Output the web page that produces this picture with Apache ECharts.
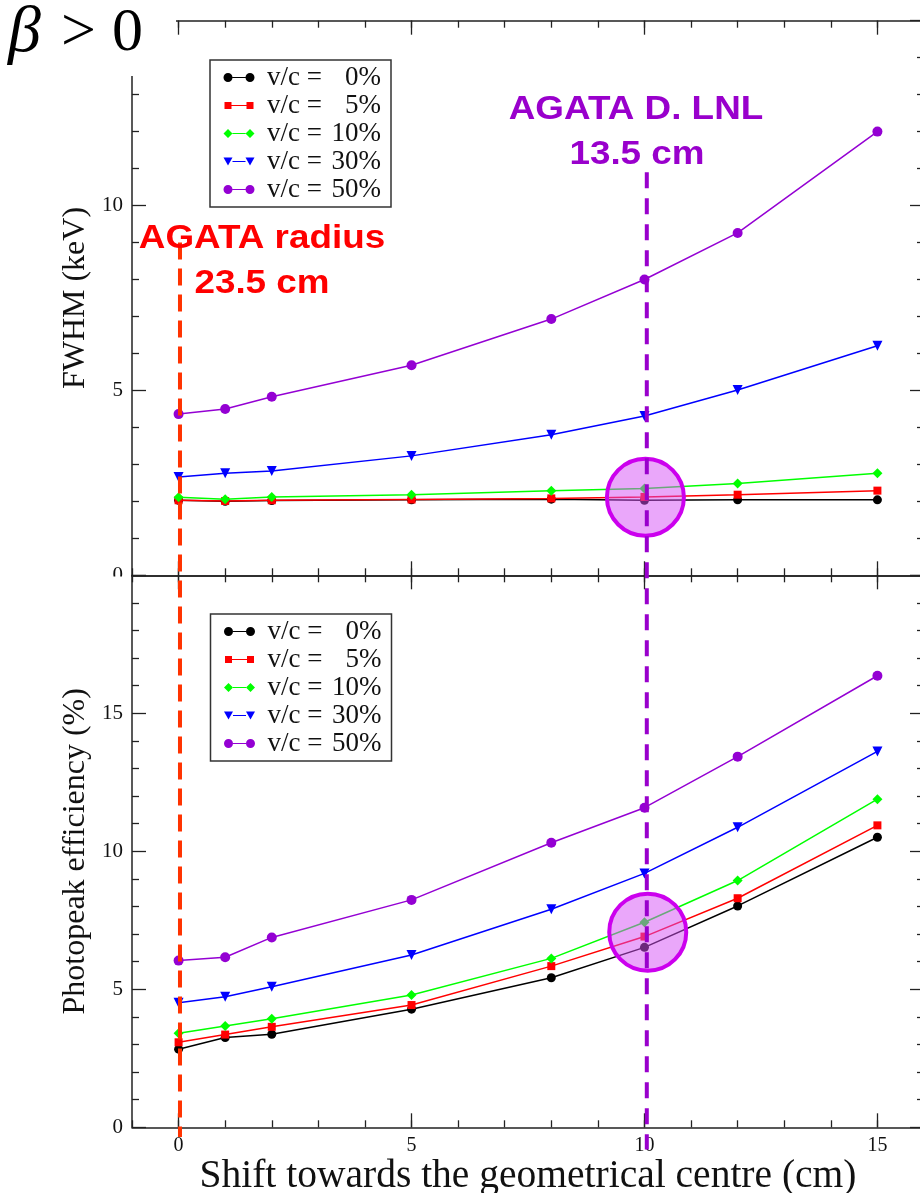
<!DOCTYPE html>
<html><head><meta charset="utf-8">
<script src="https://cdn.jsdelivr.net/npm/echarts@6/dist/echarts.min.js"></script>
<style>html,body{margin:0;padding:0;background:#fff}#chart{width:920px;height:1193px}</style>
</head><body><div id="chart"></div>
<script>
// ---------------- data ----------------
const shifts = [0, 1, 2, 5, 8, 10, 12, 15];
const seriesNames = ['v/c = 0%', 'v/c = 5%', 'v/c = 10%', 'v/c = 30%', 'v/c = 50%'];
const fwhm0  = [2.03, 2.00, 2.02, 2.04, 2.06, 2.03, 2.04, 2.04];
const fwhm5  = [2.03, 2.01, 2.03, 2.05, 2.08, 2.12, 2.18, 2.29];
const fwhm10 = [2.11, 2.06, 2.12, 2.18, 2.29, 2.35, 2.48, 2.76];
const fwhm30 = [2.66, 2.76, 2.82, 3.23, 3.80, 4.31, 5.01, 6.21];
const fwhm50 = [4.36, 4.50, 4.83, 5.68, 6.93, 8.00, 9.26, 12.00];
const eff0  = [2.83, 3.25, 3.37, 4.28, 5.42, 6.52, 8.02, 10.51];
const eff5  = [3.08, 3.36, 3.64, 4.43, 5.84, 6.91, 8.30, 10.94];
const eff10 = [3.41, 3.67, 3.93, 4.79, 6.12, 7.43, 8.94, 11.89];
const eff30 = [4.51, 4.73, 5.09, 6.24, 7.90, 9.20, 10.87, 13.62];
const eff50 = [6.04, 6.16, 6.88, 8.24, 10.31, 11.58, 13.43, 16.36];
const xMajorTicks = [0, 5, 10, 15];
const xTitle = 'Shift towards the geometrical centre (cm)';
const yTitleTop = 'FWHM (keV)';
const yTitleBottom = 'Photopeak efficiency (%)';
// annotation anchors (data coordinates)
const agataRadiusX = 0;      // red dashed line
const agataLnlX = 10;        // purple dashed line
const circleTop = [10.02, 2.11];
const circleBottom = [10.07, 7.07];

// ---------------- styles ----------------
const SERIF = '"Liberation Serif","DejaVu Serif",serif';
const SANS = '"Liberation Sans",Arial,sans-serif';
const AX = '#222';
const marks = [
  {color: '#000000', symbol: 'circle', size: 9, rotate: 0},
  {color: '#FF0000', symbol: 'rect', size: 8, rotate: 0},
  {color: '#00FF00', symbol: 'diamond', size: 10, rotate: 0},
  {color: '#0000FF', symbol: 'triangle', size: 10, rotate: 180},
  {color: '#9400D3', symbol: 'circle', size: 10, rotate: 0}
];
const BOX = 'M0,0M32,10';
const LINE = 'M9.5,4.4L22.5,4.4L22.5,5.6L9.5,5.6Z';
const icons = [
  'path://' + BOX + 'M0.5,5A4.5,4.5,0,1,0,9.5,5A4.5,4.5,0,1,0,0.5,5Z' + LINE + 'M22.5,5A4.5,4.5,0,1,0,31.5,5A4.5,4.5,0,1,0,22.5,5Z',
  'path://' + BOX + 'M1.5,1.5L8.5,1.5L8.5,8.5L1.5,8.5Z' + 'M8.5,4.4L23.5,4.4L23.5,5.6L8.5,5.6Z' + 'M23.5,1.5L30.5,1.5L30.5,8.5L23.5,8.5Z',
  'path://' + BOX + 'M5,0.5L9.5,5L5,9.5L0.5,5Z' + LINE + 'M27,0.5L31.5,5L27,9.5L22.5,5Z',
  'path://' + BOX + 'M0.5,1L9.5,1L5,9Z' + LINE + 'M22.5,1L31.5,1L27,9Z',
  'path://' + BOX + 'M0.5,5A4.5,4.5,0,1,0,9.5,5A4.5,4.5,0,1,0,0.5,5Z' + LINE + 'M22.5,5A4.5,4.5,0,1,0,31.5,5A4.5,4.5,0,1,0,22.5,5Z'
];

const chart = echarts.init(document.getElementById('chart'), null, {renderer: 'canvas'});

function xAxesFor(grid, withLabels) {
  const base = {gridIndex: grid, type: 'value', min: -1, max: 16, splitLine: {show: false}};
  const list = [];
  ['bottom', 'top'].forEach(function (pos) {
    list.push(Object.assign({}, base, {
      position: pos, interval: 1,
      axisLine: {show: true, onZero: false, lineStyle: {color: AX, width: 1.5}},
      axisTick: {show: true, inside: true, length: 7, lineStyle: {color: AX, width: 1.3}},
      axisLabel: {show: false}
    }));
    const major = Object.assign({}, base, {
      position: pos, interval: 1,
      axisLine: {show: false, onZero: false},
      axisTick: {show: true, inside: true, length: 14, customValues: xMajorTicks, lineStyle: {color: AX, width: 1.3}},
      axisLabel: {show: withLabels && pos === 'bottom', customValues: xMajorTicks, fontFamily: SERIF, fontSize: 20, color: '#111', margin: 8}
    });
    if (withLabels && pos === 'bottom') {
      major.name = xTitle; major.nameLocation = 'middle'; major.nameGap = 22;
      major.nameTextStyle = {fontFamily: SERIF, fontSize: 39.5, color: '#111'};
    }
    list.push(major);
  });
  return list;
}
function yAxesFor(grid, max, title) {
  const base = {gridIndex: grid, type: 'value', min: 0, max: max, interval: 5, splitLine: {show: false},
    axisLine: {show: true, onZero: false, lineStyle: {color: AX, width: 1.5}},
    axisTick: {show: true, inside: true, length: 14, lineStyle: {color: AX, width: 1.3}},
    minorTick: {show: true, splitNumber: 5, length: 7, lineStyle: {color: AX, width: 1.3}}};
  return [
    Object.assign({}, base, {position: 'left',
      axisLabel: {show: true, fontFamily: SERIF, fontSize: 21, color: '#111', margin: 9, showMaxLabel: grid === 0},
      name: title, nameLocation: 'middle', nameRotate: 90, nameGap: 40,
      nameTextStyle: {fontFamily: SERIF, fontSize: 32, color: '#111'}}),
    Object.assign({}, base, {position: 'right', axisLabel: {show: false}})
  ];
}

const topData = [fwhm0, fwhm5, fwhm10, fwhm30, fwhm50];
const botData = [eff0, eff5, eff10, eff30, eff50];
const series = [];
[[topData, 0, 0], [botData, 4, 2]].forEach(function (p) {
  p[0].forEach(function (vals, i) {
    series.push({
      type: 'line', name: seriesNames[i], xAxisIndex: p[1], yAxisIndex: p[2],
      data: shifts.map(function (x, k) { return [x, vals[k]]; }),
      symbol: marks[i].symbol, symbolSize: marks[i].size, symbolRotate: marks[i].rotate,
      itemStyle: {color: marks[i].color},
      lineStyle: {color: marks[i].color, width: 1.5},
      clip: false, z: 2 + i * 0.01
    });
  });
});

function legendFor(left, top) {
  return {
    orient: 'vertical', left: left, top: top, selectedMode: false,
    backgroundColor: '#fff', borderColor: '#333', borderWidth: 1.5, borderRadius: 0,
    padding: [4, 10, 4, 13], itemWidth: 32, itemHeight: 10, itemGap: 1,
    itemStyle: {borderWidth: 0},
    data: seriesNames.map(function (n, i) { return {name: n, icon: icons[i]}; }),
    formatter: function (name) {
      const parts = name.split('=');
      return '{s|}{a|' + parts[0].trim() + ' =}{b|' + parts[1].trim() + '}';
    },
    textStyle: {
      fontSize: 27, fontFamily: SERIF,
      rich: {
        s: {width: 7, fontSize: 27},
        a: {fontFamily: SERIF, fontSize: 27, color: '#111', width: 58},
        b: {fontFamily: SERIF, fontSize: 27, color: '#111', width: 56, align: 'right'}
      }
    }
  };
}

chart.setOption({
  animation: false,
  backgroundColor: '#fff',
  grid: [
    {left: 132, top: 20.7, width: 792, height: 554.6, outerBoundsMode: 'none', containLabel: false},
    {left: 132, top: 575.3, width: 792, height: 552, outerBoundsMode: 'none', containLabel: false}
  ],
  xAxis: xAxesFor(0, false).concat(xAxesFor(1, true)),
  yAxis: yAxesFor(0, 15, yTitleTop).concat(yAxesFor(1, 20, yTitleBottom)),
  legend: [legendFor(210, 60), legendFor(210.5, 614)],
  series: series
});

function px(g, x, y) {
  return chart.convertToPixel({xAxisIndex: g === 0 ? 0 : 4, yAxisIndex: g === 0 ? 0 : 2}, [x, y]);
}
const redTop = px(0, agataRadiusX + 0.03, 9);
const redBot = px(1, agataRadiusX + 0.03, -0.35);
const purTop = px(0, agataLnlX + 0.05, 10.9);
const purBot = px(1, agataLnlX + 0.05, -0.8);
const cT = px(0, circleTop[0], circleTop[1]);
const cB = px(1, circleBottom[0], circleBottom[1]);
const circleStyle = {fill: 'rgba(214,80,245,0.5)', stroke: '#CC00EE', lineWidth: 4};
const annFont = 'bold 33.5px ' + SANS;

chart.setOption({
  graphic: [
    {type: 'circle', z: 10, shape: {cx: cT[0], cy: cT[1], r: 38.5}, style: circleStyle},
    {type: 'circle', z: 10, shape: {cx: cB[0], cy: cB[1], r: 38.5}, style: circleStyle},
    {type: 'line', z: 11, shape: {x1: redTop[0], y1: redTop[1], x2: redBot[0], y2: redBot[1]},
      style: {stroke: '#FF3300', lineWidth: 4, lineDash: [17, 9]}},
    {type: 'line', z: 11, shape: {x1: purTop[0], y1: purTop[1], x2: purBot[0], y2: purBot[1]},
      style: {stroke: '#9900CC', lineWidth: 4, lineDash: [16, 10]}},
    {type: 'text', z: 12, x: 262, y: 239, scaleX: 1.1, style: {text: 'AGATA radius', fill: '#FF0000', font: annFont, align: 'center', verticalAlign: 'middle'}},
    {type: 'text', z: 12, x: 262, y: 284, scaleX: 1.1, style: {text: '23.5 cm', fill: '#FF0000', font: annFont, align: 'center', verticalAlign: 'middle'}},
    {type: 'text', z: 12, x: 636, y: 110, scaleX: 1.1, style: {text: 'AGATA D. LNL', fill: '#9900CC', font: annFont, align: 'center', verticalAlign: 'middle'}},
    {type: 'text', z: 12, x: 637, y: 155, scaleX: 1.1, style: {text: '13.5 cm', fill: '#9900CC', font: annFont, align: 'center', verticalAlign: 'middle'}},
    {type: 'rect', z: 20, shape: {x: 0, y: 0, width: 176, height: 76}, style: {fill: '#fff'}},
    {type: 'rect', z: 20, shape: {x: 92, y: 576.5, width: 38, height: 18}, style: {fill: '#fff'}},
    {type: 'text', z: 21, x: 8, y: 34, style: {
      text: '{g|β}{t|>}{t|0}', verticalAlign: 'middle',
      rich: {
        g: {fontFamily: SERIF, fontStyle: 'italic', fontSize: 66, color: '#000', width: 53},
        t: {fontFamily: SERIF, fontSize: 62, color: '#000', width: 51}
      }}}
  ]
});
</script>
</body></html>
